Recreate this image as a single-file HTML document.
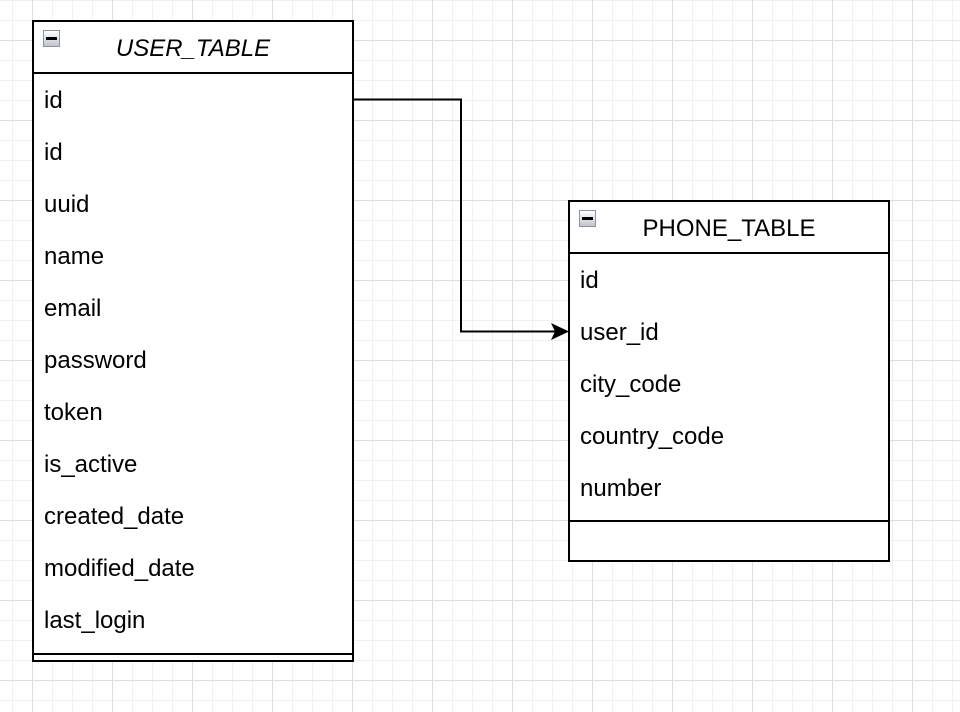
<!DOCTYPE html>
<html><head><style>
body{margin:0;width:960px;height:712px;overflow:hidden;background:#fff;
background-image:
linear-gradient(to right,#dedede 1px,transparent 1px),
linear-gradient(to bottom,#dedede 1px,transparent 1px),
linear-gradient(to right,#f0f0f0 1px,transparent 1px),
linear-gradient(to bottom,#f0f0f0 1px,transparent 1px);
background-size:80px 80px,80px 80px,20px 20px,20px 20px;
background-position:32px 0,0 40px,12px 0,0 0;
font-family:"Liberation Sans",Helvetica,sans-serif;font-size:24px;color:#000;position:relative}
.t{position:absolute;background:#fff;border:2px solid #000;box-sizing:border-box}
.h{height:52px;border-bottom:2px solid #000;box-sizing:border-box;position:relative;line-height:54px;text-align:center}
.ic{position:absolute;left:9px;top:8px;width:17px;height:17px;border:1px solid #8a94a6;background:linear-gradient(#fff,#c0c4cc);box-sizing:border-box}
.ic:after{content:"";position:absolute;left:2px;right:2px;top:6px;height:3px;background:#000}
.r{height:52px;line-height:54px;padding-left:10px}
</style></head><body>
<div class="t" style="left:32px;top:20px;width:322px;height:642px">
<div class="h"><span class="ic"></span><i>USER_TABLE</i></div>
<div class="r">id</div><div class="r">id</div><div class="r">uuid</div><div class="r">name</div><div class="r">email</div><div class="r">password</div><div class="r">token</div><div class="r">is_active</div><div class="r">created_date</div><div class="r">modified_date</div><div class="r">last_login</div>
<div style="position:absolute;left:0;right:0;top:631px;border-top:2px solid #000"></div>
</div>
<div class="t" style="left:568px;top:200px;width:322px;height:362px">
<div class="h"><span class="ic"></span>PHONE_TABLE</div>
<div class="r">id</div><div class="r">user_id</div><div class="r">city_code</div><div class="r">country_code</div><div class="r">number</div>
<div style="position:absolute;left:0;right:0;top:318px;border-top:2px solid #000"></div>
</div>
<svg width="960" height="712" style="position:absolute;left:0;top:0">
<path d="M354 99.5H461V331.5H560" fill="none" stroke="#000" stroke-width="2"/>
<path d="M569 331.5L551 323L555 331.5L551 340Z" fill="#000"/>
</svg>
</body></html>
